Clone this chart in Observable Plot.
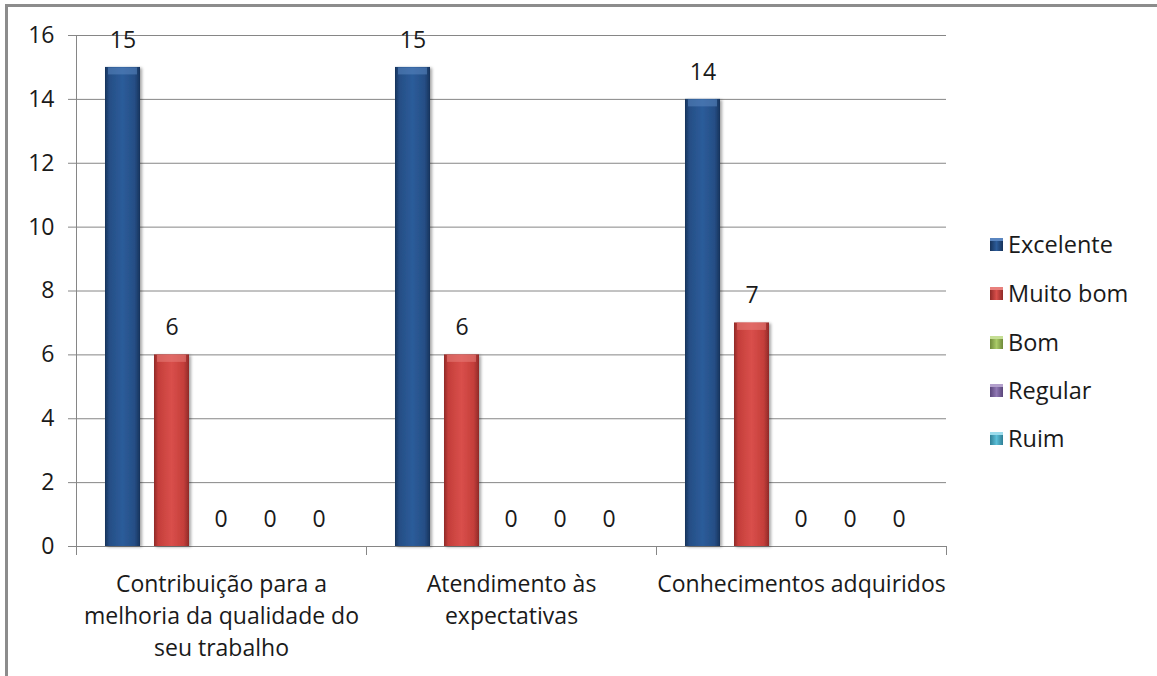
<!DOCTYPE html>
<html>
<head>
<meta charset="utf-8">
<script src="https://cdn.jsdelivr.net/npm/d3@7"></script>
<script src="https://cdn.jsdelivr.net/npm/@observablehq/plot@0.6"></script>
<style>
  html, body { margin: 0; padding: 0; background: #fff; }
  body { width: 1157px; height: 676px; position: relative; overflow: hidden; font-family: "Open Sans", sans-serif; }
  #border { position: absolute; left: 5px; top: 4px; width: 1170px; height: 700px;
            border-top: 3px solid #8c8c8c; border-left: 3px solid #8c8c8c; }
  #chart { position: absolute; left: 0; top: 0; }
  #legend { position: absolute; left: 990px; top: 0; }
  .item { position: absolute; left: 0; display: flex; align-items: center; white-space: nowrap;
          font-size: 23.5px; color: #1a1a1a; transform: translateY(-50%); }
  .sw { width: 13px; height: 13px; margin-right: 5px; box-sizing: border-box; }
</style>
</head>
<body>
<div id="border"></div>
<div id="chart"></div>
<div id="legend"></div>
<script>
// ---- data ----
const categories = [
  "Contribuição para a melhoria da qualidade do seu trabalho",
  "Atendimento às expectativas",
  "Conhecimentos adquiridos"
];
const categoryLabels = [
  "Contribuição para a\nmelhoria da qualidade do\nseu trabalho",
  "Atendimento às\nexpectativas",
  "Conhecimentos adquiridos"
];
const series = ["Excelente", "Muito bom", "Bom", "Regular", "Ruim"];
const excelente = [15, 15, 14];
const muitoBom = [6, 6, 7];
const bom = [0, 0, 0];
const regular = [0, 0, 0];
const ruim = [0, 0, 0];
const yTicks = [0, 2, 4, 6, 8, 10, 12, 14, 16];

// ---- styles ----
const seriesValues = [excelente, muitoBom, bom, regular, ruim];
const baseColors = ["#254e85", "#c43e3a", "#9bbb59", "#8064a2", "#4bacc6"];
const edgeColors = ["#17335a", "#8f2a27", "#6f8a3a", "#5a467a", "#2f7f95"];
const midColors  = ["#2c5c9a", "#d94f4b", "#aacb68", "#9078b4", "#5cbfd8"];
const hlColors   = ["#5a86c0", "#e8807c", "#c5de94", "#b3a0cc", "#9cdcec"];
const gradIds = series.map((s, i) => "grad" + i);

const data = categories.flatMap((c, i) =>
  series.map((s, j) => ({category: c, series: s, value: seriesValues[j][i]}))
);
const labelOf = new Map(categories.map((c, i) => [c, categoryLabels[i]]));

const axisColor = "#868686";
const plotH = 676 - 35 - 130;
const fs = 23;

const svg = Plot.plot({
  width: 975,
  height: 676,
  marginLeft: 75,
  marginRight: 29,
  marginTop: 35,
  marginBottom: 130,
  style: {fontFamily: "Open Sans", fontSize: fs + "px", color: "#1a1a1a", background: "transparent", overflow: "visible"},
  fx: {domain: categories, padding: 0, label: null},
  x: {domain: series, paddingInner: 0.28, paddingOuter: 0.543, axis: null},
  y: {domain: [0, 16], label: null},
  color: {domain: series, range: gradIds.map(id => `url(#${id})`)},
  marks: [
    Plot.gridY(yTicks, {stroke: axisColor, strokeOpacity: 1}),
    Plot.axisY(yTicks, {tickSize: 8, tickPadding: 14, stroke: axisColor, fill: "#1a1a1a", fontSize: fs, label: null}),
    Plot.frame({anchor: "left", facetAnchor: "left", stroke: axisColor, strokeOpacity: 1, insetBottom: -8}),
    Plot.frame({anchor: "left", stroke: axisColor, strokeOpacity: 1, insetTop: plotH, insetBottom: -8}),
    Plot.frame({anchor: "right", facetAnchor: "right", stroke: axisColor, strokeOpacity: 1, insetTop: plotH, insetBottom: -8}),
    Plot.barY(data, {fx: "category", x: "series", y: "value", fill: "series"}),
    ...series.map((s, j) =>
      Plot.tickY(data.filter(d => d.series === s && d.value > 0),
        {fx: "category", x: "series", y: "value", stroke: hlColors[j], strokeWidth: 7, strokeOpacity: 0.55, dy: 3.5, insetLeft: 3, insetRight: 3})
    ),
    Plot.text(data, {fx: "category", x: "series", y: "value", text: d => String(d.value), dy: -27, fontSize: fs, fill: "#1a1a1a"}),
    Plot.axisFx({anchor: "bottom", tickSize: 0, tickPadding: 22, label: null, fontSize: fs, lineHeight: 1.41, fill: "#1a1a1a", tickFormat: c => labelOf.get(c)})
  ]
});

// gradient defs + shadow
const sel = d3.select(svg);
const defs = sel.insert("defs", ":first-child");
gradIds.forEach((id, i) => {
  const g = defs.append("linearGradient").attr("id", id).attr("x1", "0").attr("x2", "1").attr("y1", "0").attr("y2", "0");
  g.append("stop").attr("offset", "0%").attr("stop-color", edgeColors[i]);
  g.append("stop").attr("offset", "12%").attr("stop-color", baseColors[i]);
  g.append("stop").attr("offset", "50%").attr("stop-color", midColors[i]);
  g.append("stop").attr("offset", "85%").attr("stop-color", baseColors[i]);
  g.append("stop").attr("offset", "100%").attr("stop-color", edgeColors[i]);
});
const f = defs.append("filter").attr("id", "shadow").attr("x", "-20%").attr("y", "-5%").attr("width", "150%").attr("height", "115%");
f.append("feDropShadow").attr("dx", 2).attr("dy", 1).attr("stdDeviation", 1.5).attr("flood-color", "#000").attr("flood-opacity", 0.35);
sel.selectAll("g[aria-label='bar'] rect").attr("filter", "url(#shadow)");

document.getElementById("chart").appendChild(svg);

// legend
const legend = document.getElementById("legend");
const legendY = [244, 293, 342, 390, 438];
series.forEach((s, i) => {
  const item = document.createElement("div");
  item.className = "item";
  item.style.top = legendY[i] + "px";
  const sw = document.createElement("span");
  sw.className = "sw";
  sw.style.background = `linear-gradient(to right, ${edgeColors[i]}, ${midColors[i]} 50%, ${edgeColors[i]})`;
  sw.style.borderTop = `3px solid ${hlColors[i]}`;
  const t = document.createElement("span");
  t.textContent = s;
  item.appendChild(sw);
  item.appendChild(t);
  legend.appendChild(item);
});
</script>
</body>
</html>
